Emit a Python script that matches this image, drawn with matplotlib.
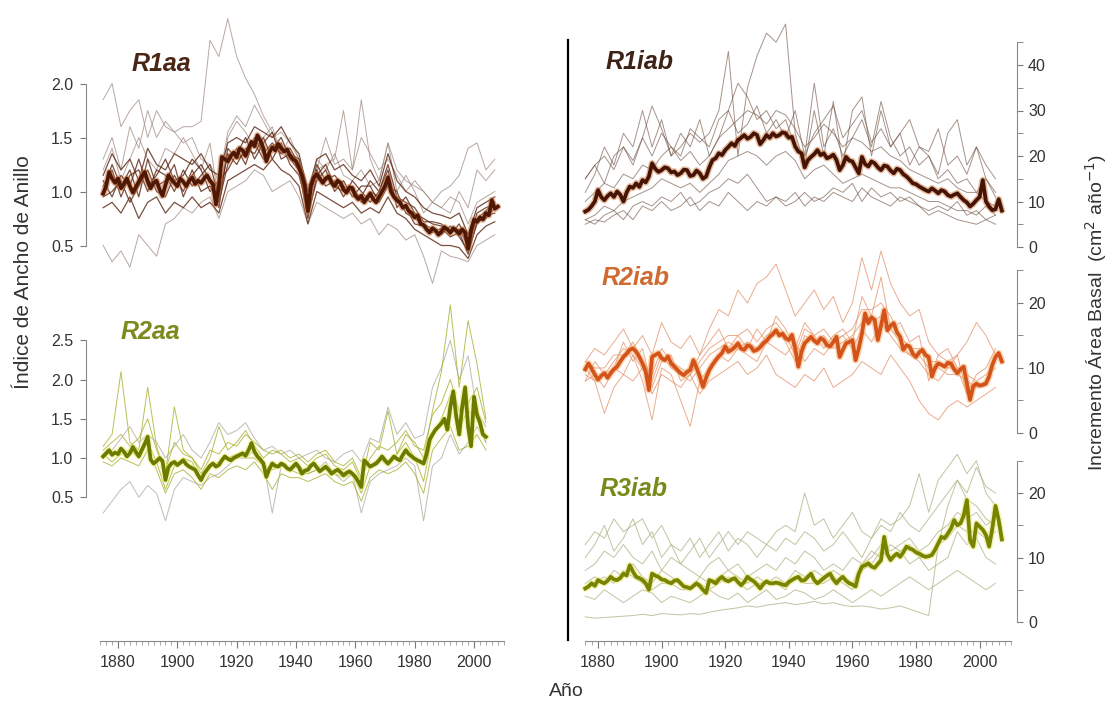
import numpy as np
import matplotlib
matplotlib.use("Agg")
import matplotlib.pyplot as plt
from matplotlib.lines import Line2D

plt.rcParams['font.family'] = ['Liberation Sans', 'DejaVu Sans']

W, H = 1109, 702

# ---------------- data: annual means ----------------
r1aa_start = 1875
r1aa_mean = [0.98, 1.05, 1.18, 1.12, 1.08, 1.12, 1.03, 1.07, 1.12, 1.05,
             0.99, 1.04, 1.09, 1.14, 1.18, 1.10, 1.03, 1.08, 1.10, 1.02,
             0.96, 1.06, 1.15, 1.11, 1.08, 1.05, 1.12, 1.09, 1.05, 1.10,
             1.13, 1.07, 1.10, 1.08, 1.12, 1.15, 1.10, 1.07, 0.88, 1.05,
             1.32, 1.30, 1.28, 1.33, 1.36, 1.32, 1.40, 1.38, 1.33, 1.40,
             1.46, 1.42, 1.52, 1.47, 1.40, 1.28, 1.36, 1.41, 1.38, 1.44,
             1.40, 1.37, 1.39, 1.33, 1.30, 1.28, 1.22, 1.15, 1.05, 0.82,
             1.05, 1.13, 1.16, 1.12, 1.08, 1.12, 1.14, 1.08, 1.05, 1.10,
             1.08, 1.02, 0.99, 1.04, 1.03, 0.96, 0.93, 0.96, 0.90, 0.94,
             0.98, 0.93, 0.90, 0.95, 1.00, 1.05, 1.13, 1.00, 0.95, 0.92,
             0.90, 0.85, 0.87, 0.82, 0.80, 0.76, 0.78, 0.70, 0.69, 0.65,
             0.62, 0.66, 0.64, 0.60, 0.63, 0.67, 0.65, 0.62, 0.66, 0.64,
             0.61, 0.65, 0.62, 0.47, 0.64, 0.74, 0.72, 0.76, 0.74, 0.80,
             0.78, 0.92, 0.84, 0.86]

r2aa_start = 1875
r2aa_mean = [1.02, 1.06, 1.10, 1.04, 1.07, 1.05, 1.12, 1.08, 1.02, 1.06,
             1.14, 1.08, 1.02, 1.10, 1.18, 1.27, 0.98, 0.93, 0.96, 1.00,
             0.96, 0.72, 0.88, 0.93, 0.95, 0.91, 0.94, 0.97, 0.92, 0.89,
             0.87, 0.85, 0.78, 0.72, 0.80, 0.85, 0.90, 0.93, 0.89, 0.91,
             0.97, 1.02, 0.99, 0.97, 1.00, 1.02, 1.04, 1.06, 1.03, 1.10,
             1.19, 1.08, 1.02, 0.98, 0.93, 0.76, 0.86, 0.93, 0.90, 0.89,
             0.93, 0.91, 0.87, 0.85, 0.89, 0.93, 0.88, 0.80, 0.84, 0.85,
             0.90, 0.93, 0.88, 0.83, 0.86, 0.89, 0.85, 0.80, 0.83, 0.85,
             0.82, 0.78, 0.81, 0.83, 0.80, 0.76, 0.70, 0.63, 0.97, 0.93,
             0.89, 0.91, 0.93, 0.97, 1.02, 0.97, 0.93, 0.97, 1.02, 0.99,
             0.97, 1.04, 1.10, 1.05, 1.02, 0.99, 0.97, 0.95, 0.93, 1.05,
             1.23, 1.30, 1.36, 1.40, 1.44, 1.50, 1.36, 1.65, 1.85, 1.53,
             1.30, 1.65, 1.90, 1.40, 1.15, 1.78, 1.55, 1.45, 1.30, 1.27]

r1iab_start = 1876
r1iab_mean = [7.8, 8.2, 9.0, 10.0, 12.5, 11.0, 10.3, 11.2, 11.8, 11.0,
              12.2, 11.5, 10.0, 12.0, 13.3, 13.0, 14.0, 13.2, 14.7, 14.2,
              15.5, 18.4, 17.2, 16.5, 16.9, 17.5, 17.3, 16.4, 16.6, 15.8,
              16.2, 17.0, 16.9, 15.6, 15.8, 16.8, 16.2, 15.0, 15.5, 17.5,
              19.1, 19.5, 20.6, 20.2, 21.3, 22.0, 22.8, 22.2, 23.5, 24.0,
              24.6, 23.8, 24.2, 25.0, 24.6, 22.6, 23.5, 24.6, 24.0, 25.0,
              24.3, 24.6, 25.2, 25.0, 24.0, 24.2, 22.1, 21.0, 20.6, 17.5,
              19.1, 19.8, 20.4, 21.3, 20.2, 20.6, 19.5, 19.8, 20.3, 19.1,
              16.9, 18.0, 19.8, 19.0, 18.8, 17.5, 16.2, 19.8, 18.2, 17.7,
              18.8, 18.4, 17.5, 16.9, 17.9, 17.7, 16.8, 16.2, 17.2, 16.9,
              16.0, 15.5, 14.8, 14.0, 13.8, 13.3, 12.9, 12.5, 12.2, 12.9,
              12.4, 11.8, 12.5, 12.2, 11.4, 11.1, 11.5, 11.8, 11.0, 10.3,
              9.8, 8.9, 9.5, 10.3, 11.0, 14.7, 10.0, 8.9, 8.1, 8.3,
              10.5, 8.0]

r2iab_start = 1876
r2iab_mean = [9.8, 10.7, 9.9, 9.0, 8.2, 8.8, 9.2, 8.5, 9.2, 9.8,
              10.2, 11.0, 11.7, 12.2, 12.8, 13.0, 12.5, 11.7, 10.7, 9.5,
              6.6, 11.7, 12.0, 12.3, 11.5, 11.2, 11.8, 10.7, 10.2, 9.7,
              9.2, 8.9, 9.4, 9.7, 11.2, 10.0, 8.7, 7.1, 8.5, 9.7,
              10.5, 11.2, 11.8, 12.3, 13.3, 12.5, 12.8, 13.2, 13.8, 13.0,
              12.8, 13.5, 13.3, 12.6, 12.8, 13.2, 13.8, 14.2, 14.8, 15.2,
              15.8, 15.0, 15.3, 14.6, 14.3, 15.1, 13.0, 10.2, 12.5, 13.8,
              14.3, 14.8, 14.2, 13.8, 14.6, 14.3, 13.5, 13.3, 14.0, 14.8,
              11.7, 12.8, 13.8, 14.0, 14.3, 11.2, 13.0, 15.3, 18.4, 16.9,
              17.8, 17.4, 14.3, 16.5, 18.9, 15.8, 16.5, 16.9, 15.5, 14.8,
              12.8, 13.5, 13.3, 12.2, 11.7, 12.4, 12.8, 12.0, 11.7, 8.7,
              10.0, 10.7, 10.5, 10.2, 10.8, 10.7, 9.8, 9.2, 9.8, 10.2,
              7.6, 5.1, 7.2, 7.6, 7.3, 7.4, 7.6, 8.7, 10.5, 11.7,
              12.3, 11.0]

r3iab_start = 1876
r3iab_mean = [5.2, 5.5, 6.0, 5.6, 6.5, 6.2, 6.0, 6.4, 7.0, 6.6,
              6.5, 6.8, 7.5, 7.2, 8.8, 7.8, 7.0, 6.8, 6.5, 6.0,
              5.0, 7.5, 7.2, 7.0, 6.6, 6.5, 6.2, 6.0, 6.4, 6.5,
              6.0, 5.5, 5.4, 5.2, 5.6, 6.0, 5.6, 5.0, 4.5, 6.5,
              6.3, 6.0, 6.6, 7.0, 6.5, 6.3, 6.6, 6.8, 6.2, 5.7,
              6.2, 7.0, 6.6, 6.3, 5.8, 5.2, 5.9, 6.3, 6.0, 6.0,
              6.1, 6.0, 5.8, 5.7, 6.2, 6.5, 6.8, 7.0, 6.4, 6.5,
              7.0, 7.5, 6.5, 6.0, 6.4, 6.8, 7.2, 7.5, 6.6, 6.0,
              6.6, 7.0, 6.4, 6.0, 5.8, 5.5, 7.5, 8.6, 8.8, 9.1,
              8.6, 8.4, 9.0, 9.6, 13.2, 10.5, 9.6, 10.2, 10.6, 10.1,
              10.8, 11.7, 11.4, 11.2, 10.8, 10.6, 10.3, 10.1, 10.2, 10.4,
              11.2, 12.2, 13.2, 13.0, 13.7, 14.5, 15.8, 15.0, 15.3, 16.5,
              18.9, 12.7, 11.7, 15.3, 14.8, 14.3, 13.5, 11.7, 14.5, 18.0,
              15.8, 12.8]

# ---------------- data: individual series (every 3 years) ----------------
r1aa_trees = [
    [1.15, 1.35, 1.2, 1.3, 1.1, 1.4, 1.25, 1.2, 1.35, 1.3, 1.25, 1.35, 1.2, 1.15, 1.45,
     1.5, 1.45, 1.6, 1.55, 1.5, 1.6, 1.45, 1.35, 1.0, 1.3, 1.35, 1.2, 1.25, 1.15, 1.1,
     1.2, 1.05, 1.35, 1.1, 1.0, 0.95, 0.85, 0.8, 0.78, 0.75, 0.8, 0.6, 0.85, 0.9, 0.95],
    [0.85, 0.9, 0.8, 0.95, 0.75, 0.9, 0.95, 0.8, 0.9, 0.85, 0.95, 0.85, 0.9, 0.8, 1.1,
     1.15, 1.2, 1.25, 1.2, 1.3, 1.2, 1.15, 1.05, 0.7, 1.0, 0.95, 0.9, 0.85, 0.9, 0.8,
     0.85, 0.8, 0.95, 0.8, 0.75, 0.65, 0.6, 0.55, 0.5, 0.5, 0.48, 0.38, 0.6, 0.68, 0.72],
    [1.05, 1.2, 0.95, 1.15, 1.2, 1.0, 1.2, 1.15, 1.0, 1.2, 1.05, 1.15, 1.25, 0.95, 1.35,
     1.25, 1.4, 1.35, 1.5, 1.3, 1.45, 1.25, 1.15, 0.85, 1.2, 1.05, 1.1, 0.95, 1.1, 1.0,
     0.9, 1.0, 1.2, 0.85, 0.95, 0.8, 0.75, 0.7, 0.68, 0.62, 0.65, 0.5, 0.75, 0.82, 0.9],
    [0.95, 1.0, 1.1, 0.9, 1.05, 1.2, 1.0, 0.95, 1.15, 1.0, 1.2, 1.0, 1.05, 0.9, 1.25,
     1.4, 1.25, 1.5, 1.35, 1.45, 1.35, 1.4, 1.25, 0.8, 1.1, 1.2, 1.0, 1.1, 0.95, 1.05,
     1.05, 0.9, 1.05, 1.0, 0.8, 0.75, 0.7, 0.65, 0.6, 0.68, 0.58, 0.45, 0.7, 0.78, 0.8],
    [1.1, 0.95, 1.15, 1.05, 1.3, 1.05, 1.15, 1.3, 1.1, 1.15, 1.3, 1.2, 1.0, 1.1, 1.2,
     1.35, 1.5, 1.3, 1.45, 1.55, 1.3, 1.35, 1.3, 0.9, 1.25, 1.1, 1.15, 1.05, 1.0, 0.95,
     1.1, 1.0, 1.25, 0.95, 0.9, 0.85, 0.72, 0.72, 0.7, 0.6, 0.7, 0.52, 0.8, 0.85, 0.88],
    [1.0, 1.25, 1.05, 1.2, 0.95, 1.3, 1.05, 1.1, 1.25, 0.95, 1.15, 1.25, 1.1, 0.85, 1.4,
     1.3, 1.35, 1.45, 1.3, 1.4, 1.5, 1.3, 1.2, 0.75, 1.15, 1.25, 1.05, 1.0, 1.05, 0.9,
     1.0, 0.95, 1.15, 0.9, 0.85, 0.7, 0.68, 0.62, 0.66, 0.58, 0.62, 0.42, 0.72, 0.75, 0.85],
]
r1aa_outliers = [
    [1.3, 1.5, 1.2, 1.6, 1.4, 1.75, 1.5, 1.65, 1.55, 1.6, 1.6, 1.65, 2.4, 2.25, 2.6,
     2.25, 2.05, 1.9, 1.7, 1.55, 1.35, 1.3, 1.2, 0.95, 1.3, 1.2, 1.35, 1.15, 1.1, 1.2,
     1.05, 1.1, 1.45, 1.0, 1.15, 1.0, 0.8, 0.9, 0.85, 0.8, 1.0, 0.85, 1.2, 1.1, 1.2],
    [1.85, 2.0, 1.6, 1.75, 1.85, 1.5, 1.75, 1.6, 1.55, 1.45, 1.5, 1.3, 1.25, 1.1, 1.55,
     1.7, 1.6, 1.8, 1.65, 1.5, 1.55, 1.45, 1.3, 1.05, 1.2, 1.5, 1.25, 1.3, 1.2, 1.5,
     1.35, 1.2, 1.3, 1.15, 1.0, 1.1, 1.0, 0.9, 0.85, 0.95, 0.9, 0.7, 0.9, 0.95, 1.0],
    [0.5, 0.35, 0.45, 0.3, 0.6, 0.5, 0.4, 0.7, 0.75, 0.85, 0.8, 0.9, 0.95, 0.75, 1.0,
     1.05, 1.1, 1.2, 1.15, 1.0, 1.05, 1.1, 0.95, 0.7, 0.9, 0.85, 0.8, 0.75, 0.8, 0.7,
     0.75, 0.6, 0.7, 0.65, 0.55, 0.6, 0.4, 0.15, 0.45, 0.4, 0.38, 0.35, 0.5, 0.55, 0.6],
    [1.2, 1.4, 1.1, 1.3, 1.5, 1.3, 1.2, 1.4, 1.35, 1.5, 1.35, 1.2, 1.45, 0.9, 1.5,
     1.65, 1.55, 1.4, 1.5, 1.6, 1.35, 1.5, 1.3, 0.95, 1.2, 1.25, 1.3, 1.75, 1.2, 1.85,
     1.3, 1.1, 1.45, 1.2, 1.1, 1.05, 1.0, 0.9, 1.0, 1.05, 1.15, 1.4, 1.45, 1.2, 1.3],
]

r2aa_trees = [
    [1.1, 1.2, 1.3, 1.15, 1.25, 1.5, 1.1, 0.85, 1.2, 1.05, 1.0, 0.85, 1.1, 1.05, 1.2,
     1.15, 1.3, 1.2, 1.1, 1.05, 1.1, 1.0, 1.05, 0.95, 1.05, 1.1, 0.95, 0.9, 1.0, 0.75,
     1.0, 1.15, 1.1, 1.2, 1.35, 1.15, 1.1, 1.55, 1.7, 2.0, 1.6, 1.7, 1.9, 1.45],
    [0.95, 0.9, 1.0, 0.95, 0.9, 1.1, 0.85, 0.55, 0.8, 0.85, 0.75, 0.6, 0.8, 0.75, 0.85,
     0.9, 0.85, 0.95, 0.8, 0.6, 0.8, 0.75, 0.75, 0.7, 0.75, 0.8, 0.7, 0.65, 0.7, 0.45,
     0.75, 0.85, 0.8, 0.85, 0.95, 0.8, 0.55, 1.1, 1.25, 1.4, 1.1, 1.15, 1.3, 1.1],
    [1.15, 1.3, 2.1, 1.2, 1.1, 1.9, 1.15, 0.8, 1.65, 1.1, 1.0, 0.8, 1.0, 1.4, 1.1,
     1.2, 1.35, 1.15, 1.0, 1.1, 1.05, 0.95, 1.0, 0.9, 1.0, 1.05, 0.9, 0.85, 0.95, 0.7,
     1.2, 1.1, 1.6, 1.05, 1.3, 1.2, 1.0, 1.6, 2.1, 2.95, 1.9, 2.75, 2.2, 1.5],
    [1.05, 0.95, 1.05, 1.1, 1.0, 1.2, 0.95, 0.6, 0.9, 1.0, 0.95, 0.7, 0.9, 0.95, 1.0,
     1.05, 1.0, 1.0, 0.9, 0.85, 0.9, 0.85, 0.8, 0.8, 0.85, 0.85, 0.8, 0.75, 0.8, 0.55,
     0.9, 1.0, 0.9, 1.05, 1.2, 1.0, 0.7, 1.3, 1.5, 1.8, 1.4, 1.6, 1.5, 1.2],
]
r2aa_outliers = [
    [0.3, 0.45, 0.6, 0.7, 0.5, 0.65, 0.55, 0.2, 0.6, 0.75, 0.7, 0.65, 0.75, 0.8, 0.9,
     1.0, 1.0, 1.1, 0.95, 0.3, 0.9, 0.85, 0.9, 0.8, 0.85, 0.95, 0.8, 0.7, 0.8, 0.3,
     0.7, 0.8, 0.85, 0.9, 1.0, 0.9, 0.2, 0.9, 1.0, 1.3, 1.05, 1.2, 1.4, 1.2],
    [1.0, 1.1, 1.25, 1.4, 1.2, 1.3, 1.2, 1.0, 1.15, 1.3, 1.1, 1.0, 1.2, 1.45, 1.3,
     1.35, 1.45, 1.25, 1.1, 1.15, 1.05, 1.1, 1.0, 1.05, 1.1, 1.0, 0.95, 1.05, 1.1, 0.95,
     1.25, 1.2, 1.65, 1.3, 1.45, 1.25, 1.3, 1.9, 2.15, 2.5, 2.0, 2.3, 1.6, 1.4],
]

r1iab_trees = [
    [15, 18, 20, 17, 22, 19, 24, 31, 26, 20, 22, 25, 23, 25, 30, 43, 20, 35, 42, 47,
     45, 49, 25, 18, 30, 20, 32, 18, 30, 33, 20, 30, 22, 25, 18, 22, 20, 16, 25, 28,
     18, 22, 15, 12],
    [12, 16, 22, 18, 25, 22, 30, 22, 28, 20, 25, 22, 28, 20, 24, 30, 36, 33, 28, 30,
     26, 28, 22, 20, 36, 22, 26, 20, 24, 28, 22, 32, 24, 20, 22, 18, 20, 15, 17, 14,
     15, 12, 10, 9],
    [6, 5, 7, 8, 6, 9, 10, 9, 11, 10, 12, 9, 10, 12, 13, 15, 14, 16, 13, 10,
     11, 10, 12, 9, 11, 10, 12, 11, 10, 13, 11, 10, 9, 11, 10, 9, 7, 8, 7, 6,
     5.5, 5, 6, 5],
    [5, 6, 5.5, 7, 8, 6, 9, 8, 10, 8, 9, 11, 8, 10, 9, 12, 10, 8, 10, 9,
     11, 9, 10, 12, 10, 11, 13, 12, 14, 10, 13, 11, 12, 10, 11, 9, 8, 9, 8, 10,
     7, 8, 6, 7],
    [10, 12, 14, 13, 16, 15, 18, 17, 20, 22, 19, 21, 18, 20, 24, 26, 28, 30, 29, 27,
     30, 29, 26, 22, 24, 27, 25, 22, 24, 23, 21, 22, 20, 19, 17, 16, 15, 14, 15, 13,
     12, 12, 15, 11],
    [6, 7, 9, 8, 10, 11, 12, 13, 15, 14, 13, 14, 12, 14, 16, 19, 20, 21, 20, 18,
     20, 21, 19, 15, 17, 18, 16, 14, 15, 16, 15, 14, 13, 13, 12, 11, 10, 10, 9, 8,
     8, 7, 9, 7],
    [15, 18, 14, 20, 22, 18, 24, 20, 25, 22, 20, 26, 24, 22, 28, 30, 25, 27, 31, 25,
     28, 24, 30, 20, 25, 28, 31, 24, 27, 30, 23, 26, 22, 25, 28, 22, 21, 26, 18, 20,
     16, 22, 18, 15],
]

r2iab_trees = [
    [11, 13, 12, 14, 16, 13, 15, 12, 17, 14, 13, 15, 12, 16, 19, 18, 22, 20, 23, 24,
     26, 22, 18, 20, 22, 19, 21, 17, 20, 27, 22, 28, 23, 20, 18, 19, 14, 12, 13, 10,
     9, 8, 9, 10],
    [8, 9, 7, 10, 9, 8, 10, 6, 9, 8, 7, 9, 6, 8, 9, 10, 11, 9, 10, 12,
     9, 8, 7, 9, 8, 10, 7, 8, 9, 11, 10, 9, 12, 10, 8, 5, 3, 2, 4, 5,
     4, 5, 6, 7],
    [10, 8, 3, 7, 9, 12, 8, 2, 10, 9, 5, 1, 8, 10, 12, 11, 13, 12, 11, 14,
     13, 12, 14, 11, 13, 12, 14, 15, 13, 16, 14, 17, 15, 13, 12, 11, 9, 8, 10, 12,
     14, 17, 15, 12],
    [9, 8, 9, 11, 13, 12, 10, 8, 12, 10, 9, 8, 10, 12, 13, 14, 13, 14, 13, 15,
     16, 14, 11, 15, 14, 15, 13, 14, 15, 17, 17, 18, 16, 14, 12, 12, 10, 10, 9, 9,
     8, 7, 8, 11],
    [11, 10, 10, 12, 12, 14, 11, 9, 13, 11, 10, 9, 11, 13, 14, 15, 15, 16, 14, 16,
     17, 15, 12, 16, 15, 16, 14, 15, 16, 19, 19, 20, 18, 15, 13, 13, 11, 11, 10, 10,
     6, 7, 8, 12],
    [8, 11, 9, 10, 14, 11, 13, 7, 11, 12, 8, 9, 12, 14, 16, 13, 15, 13, 16, 14,
     18, 16, 13, 17, 15, 13, 15, 16, 14, 21, 18, 24, 16, 17, 14, 15, 8, 12, 11, 12,
     6, 9, 10, 13],
]

r3iab_trees = [
    [12, 14, 13, 16, 14, 15, 16, 13, 15, 12, 11, 13, 10, 12, 14, 11, 13, 12, 10, 12,
     11, 13, 12, 14, 13, 11, 12, 14, 12, 10, 13, 15, 14, 17, 15, 14, 16, 18, 20, 22,
     19, 18, 16, 15],
    [10, 12, 15, 11, 13, 16, 12, 14, 10, 12, 9, 11, 13, 10, 12, 14, 12, 14, 13, 12,
     14, 15, 14, 20, 15, 16, 13, 15, 17, 14, 13, 16, 15, 16, 18, 23, 17, 22, 24, 26,
     23, 25, 20, 18],
    [0.8, 0.6, 0.7, 0.8, 0.9, 1.0, 1.2, 1.0, 1.3, 1.2, 1.1, 1.3, 1.2, 1.5, 1.8,
     2.0, 2.2, 2.5, 2.3, 2.6, 2.8, 3.0, 2.7, 2.9, 3.2, 2.8, 3.0, 2.6, 2.4, 2.5,
     2.3, 2.0, 2.2, 2.5, 2.0, 1.5, 1.0, 12, 18, 22, 20, 24, 21, 20],
    [4, 3.5, 5, 4, 3, 4, 5, 4.5, 3, 4, 3.5, 3, 4, 5, 4, 3.5, 4.5, 3, 4, 5,
     3.5, 4, 5, 4.5, 3.5, 4, 5, 4, 3, 4, 5, 4, 5, 6, 7, 6, 5, 6, 7, 8,
     7, 6, 5, 6],
    [6, 7, 6, 8, 7, 9, 7, 6, 8, 7, 6, 5, 7, 6, 7, 8, 7, 6, 7, 6,
     7, 6, 8, 7, 8, 7, 8, 7, 6, 9, 10, 12, 11, 12, 13, 11, 12, 14, 15, 17,
     16, 17, 15, 16],
    [5, 6, 7, 6, 8, 7, 6, 5, 6, 6, 5, 5, 6, 5, 6, 7, 6, 5, 6, 6,
     6, 5, 7, 6, 6, 6, 7, 6, 5, 8, 9, 11, 10, 11, 12, 10, 10, 12, 13, 15,
     14, 14, 13, 14],
    [8, 9, 11, 10, 12, 10, 9, 11, 8, 10, 9, 8, 7, 9, 10, 8, 9, 7, 8, 9,
     8, 10, 9, 11, 10, 8, 9, 8, 10, 9, 11, 10, 12, 11, 9, 10, 8, 9, 10, 14,
     12, 13, 10, 9],
]

left_tree_start, right_tree_start, tree_step = 1875, 1876, 3
x_ticks = [1880, 1900, 1920, 1940, 1960, 1980, 2000]

# ---------------- figure ----------------
fig = plt.figure(figsize=(W / 100, H / 100), dpi=100)


def px_axes(x0, y0, x1, y1):
    ax = fig.add_axes([x0 / W, 1 - y1 / H, (x1 - x0) / W, (y1 - y0) / H])
    ax.patch.set_alpha(0)
    for s in ax.spines.values():
        s.set_visible(False)
    ax.tick_params(colors='#7a7a7a', labelcolor='#333333', labelsize=11.5,
                   width=0.8, length=4)
    ax.set_xticks([])
    return ax


def draw(ax, trees, tstart, tcol, talpha, start, mean, halo, mcol,
         outliers=(), ocol=None, tlw=0.7):
    for t in list(outliers):
        yrs = np.arange(tstart, tstart + tree_step * len(t), tree_step)
        ax.plot(yrs, t, color=ocol, lw=0.7, alpha=0.75)
    for t in trees:
        yrs = np.arange(tstart, tstart + tree_step * len(t), tree_step)
        ax.plot(yrs, t, color=tcol, lw=tlw, alpha=talpha)
    yrs = np.arange(start, start + len(mean))
    ax.plot(yrs, mean, color=halo, lw=4.8, alpha=0.5, solid_capstyle='round')
    ax.plot(yrs, mean, color=mcol, lw=2.7, solid_joinstyle='round')


def left_y(ax, ticks):
    ax.spines['left'].set_visible(True)
    ax.spines['left'].set_color('#8a8a8a')
    ax.spines['left'].set_bounds(ticks[0], ticks[-1])
    ax.set_yticks(ticks)
    ax.set_yticklabels([f"{v:.1f}" for v in ticks])
    ax.tick_params(axis='y', pad=5)


def right_y(ax, top, major):
    ax.yaxis.tick_right()
    ax.spines['right'].set_visible(True)
    ax.spines['right'].set_color('#8a8a8a')
    ax.spines['right'].set_bounds(0, top)
    ax.set_yticks(major)
    ax.set_yticks(np.arange(5, top + 1, 10), minor=True)
    ax.tick_params(axis='y', which='both', length=4, pad=4, colors='#7a7a7a',
                   labelcolor='#333333')


def bottom_x(ax, lo, hi):
    ax.spines['bottom'].set_visible(True)
    ax.spines['bottom'].set_color('#8a8a8a')
    ax.spines['bottom'].set_bounds(lo, hi)
    ax.set_xticks(x_ticks)
    ax.set_xticks(np.arange(lo, hi + 0.1, 2), minor=True)
    ax.tick_params(axis='x', which='major', length=5, pad=5)
    ax.tick_params(axis='x', which='minor', length=3, color='#9a9a9a', width=0.6)


# left column: px = 118 + (yr - 1880) * 2.967
lx0, lx1 = 86, 560
lxlim = (1880 + (lx0 - 118) / 2.967, 1880 + (lx1 - 118) / 2.967)
# right column: px = 598 + (yr - 1880) * 3.18
rx0, rx1 = 572, 1017
rxlim = (1880 + (rx0 - 598) / 3.18, 1880 + (rx1 - 598) / 3.18)

# R1aa
ax1 = px_axes(lx0, 8, lx1, 292)
draw(ax1, r1aa_trees, left_tree_start, '#5b2410', 0.8, r1aa_start, r1aa_mean,
     '#c8703a', '#4e1804', r1aa_outliers, '#a08a80', tlw=0.9)
ax1.set_xlim(lxlim)
ax1.set_ylim(1 - (292 - 191.5) / 108, 1 + (191.5 - 8) / 108)
left_y(ax1, [0.5, 1.0, 1.5, 2.0])

# R2aa
ax2 = px_axes(lx0, 292, lx1, 641)
draw(ax2, r2aa_trees, left_tree_start, '#a8b02e', 0.8, r2aa_start, r2aa_mean,
     '#eeee6a', '#6c7a00', r2aa_outliers, '#a8a89a')
ax2.set_xlim(lxlim)
ax2.set_ylim(1 - (641 - 458) / 78.5, 1 + (458 - 292) / 78.5)
left_y(ax2, [0.5, 1.0, 1.5, 2.0, 2.5])
bottom_x(ax2, 1874, 2010)

# R1iab
ax3 = px_axes(rx0, 8, rx1, 252)
draw(ax3, r1iab_trees, right_tree_start, '#6a4a3a', 0.6, r1iab_start, r1iab_mean,
     '#d07a40', '#461404')
ax3.set_xlim(rxlim)
ax3.set_ylim((247 - 252) / 4.55, (247 - 8) / 4.55)
right_y(ax3, 45, [0, 10, 20, 30, 40])

# R2iab
ax4 = px_axes(rx0, 248, rx1, 440)
draw(ax4, r2iab_trees, right_tree_start, '#e39068', 0.75, r2iab_start, r2iab_mean,
     '#f8a860', '#d4531a')
ax4.set_xlim(rxlim)
ax4.set_ylim((433 - 440) / 6.5, (433 - 248) / 6.5)
right_y(ax4, 25, [0, 10, 20])

# R3iab
ax5 = px_axes(rx0, 440, rx1, 641)
draw(ax5, r3iab_trees, right_tree_start, '#b4b48a', 0.8, r3iab_start, r3iab_mean,
     '#e6e66a', '#788300')
ax5.set_xlim(rxlim)
ax5.set_ylim((622 - 641) / 6.45, (622 - 440) / 6.45)
right_y(ax5, 25, [0, 10, 20])
bottom_x(ax5, 1876, 2010)

# separator
fig.add_artist(Line2D([568 / W, 568 / W], [1 - 40 / H, 1 - 640 / H],
                      transform=fig.transFigure, color='black', lw=1.6))

# panel titles
titles = [("R1aa", 161, 64, '#4a2616'), ("R2aa", 150, 332, '#7c8a1e'),
          ("R1iab", 640, 62, '#3e2216'), ("R2iab", 636, 278, '#cf6a30'),
          ("R3iab", 634, 489, '#7a8a1a')]
for txt, x, y, c in titles:
    fig.text(x / W, 1 - y / H, txt, ha='center', va='center', fontsize=18,
             fontweight='bold', style='italic', color=c)

fig.text(24 / W, 1 - 272 / H, "Índice de Ancho de Anillo", rotation=90,
         ha='center', va='center', fontsize=15, color='#333333')
fig.text(1096 / W, 1 - 312 / H, "Incremento Área Basal  (cm$^2$ año$^{-1}$)",
         rotation=90, ha='center', va='center', fontsize=14, color='#333333')
fig.text(566 / W, 1 - 691 / H, "Año", ha='center', va='center', fontsize=14,
         color='#333333')

fig.savefig("out.png", dpi=100)
